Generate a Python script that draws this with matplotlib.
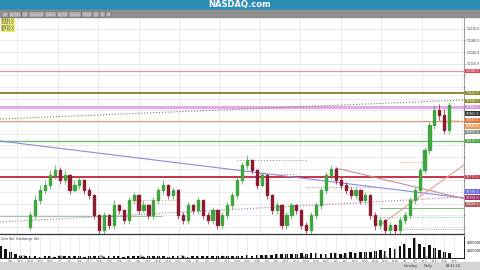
import matplotlib
matplotlib.use("Agg")
import matplotlib.pyplot as plt
from matplotlib.patches import Rectangle
import numpy as np

# daily candles (price)
opens = [10620, 10655, 10700, 10730, 10745, 10775, 10790, 10760, 10775, 10730,
         10745, 10760, 10730, 10715, 10655, 10610, 10655, 10625, 10685, 10670,
         10640, 10700, 10715, 10670, 10685, 10655, 10700, 10730, 10745, 10715,
         10730, 10655, 10640, 10685, 10670, 10700, 10655, 10640, 10670, 10625,
         10655, 10685, 10715, 10760, 10805, 10820, 10790, 10745, 10775, 10715,
         10670, 10685, 10625, 10655, 10685, 10670, 10625, 10610, 10655, 10685,
         10730, 10775, 10795, 10760, 10745, 10730, 10715, 10730, 10700, 10715,
         10655, 10625, 10640, 10610, 10625, 10610, 10640, 10655, 10700, 10730,
         10790, 10850, 10925, 10970, 10955, 10910]
closes = [10655, 10700, 10730, 10745, 10775, 10790, 10760, 10775, 10730, 10745,
          10760, 10730, 10715, 10655, 10610, 10655, 10625, 10685, 10670, 10640,
          10700, 10715, 10670, 10685, 10655, 10700, 10730, 10745, 10715, 10730,
          10655, 10640, 10685, 10670, 10700, 10655, 10640, 10670, 10625, 10655,
          10685, 10715, 10760, 10805, 10820, 10790, 10745, 10775, 10715, 10670,
          10685, 10625, 10655, 10685, 10670, 10625, 10610, 10655, 10685, 10730,
          10775, 10795, 10760, 10745, 10730, 10715, 10730, 10700, 10715, 10655,
          10625, 10640, 10610, 10625, 10610, 10640, 10655, 10700, 10730, 10790,
          10850, 10925, 10970, 10955, 10910, 10985]
highs = [10665, 10715, 10745, 10760, 10790, 10805, 10800, 10790, 10780, 10760,
         10770, 10765, 10740, 10720, 10660, 10665, 10660, 10700, 10690, 10675,
         10710, 10725, 10720, 10700, 10690, 10710, 10740, 10760, 10750, 10740,
         10735, 10665, 10695, 10690, 10710, 10705, 10665, 10680, 10675, 10665,
         10695, 10725, 10770, 10815, 10835, 10825, 10795, 10785, 10780, 10720,
         10695, 10690, 10665, 10695, 10690, 10675, 10635, 10665, 10695, 10740,
         10785, 10805, 10800, 10770, 10755, 10740, 10740, 10735, 10725, 10720,
         10665, 10650, 10645, 10635, 10630, 10650, 10665, 10710, 10740, 10800,
         10860, 10935, 10985, 10990, 10975, 10995]
lows = [10610, 10645, 10690, 10720, 10735, 10765, 10750, 10750, 10720, 10725,
        10735, 10720, 10705, 10645, 10600, 10600, 10615, 10615, 10660, 10630,
        10630, 10690, 10660, 10665, 10645, 10645, 10690, 10720, 10705, 10705,
        10645, 10630, 10630, 10660, 10660, 10645, 10630, 10630, 10615, 10615,
        10645, 10675, 10705, 10750, 10795, 10780, 10735, 10740, 10705, 10660,
        10660, 10615, 10615, 10645, 10660, 10615, 10600, 10600, 10645, 10675,
        10720, 10765, 10750, 10735, 10720, 10705, 10705, 10690, 10690, 10645,
        10610, 10615, 10600, 10600, 10600, 10600, 10630, 10645, 10690, 10720,
        10780, 10840, 10915, 10940, 10900, 10900]

# volume starts 6 bars before first visible candle
volume = [3.1, 2.2, 1.6, 1.1, 0.6, 0.4,
          0.4, 0.5, 0.3, 0.4, 0.5, 0.3, 0.4, 0.4, 0.5, 0.6, 0.4, 0.3, 0.4, 0.5,
          0.4, 0.3, 0.4, 0.4, 0.5, 0.3, 0.4, 0.5, 0.4, 0.3, 0.4, 0.5, 0.4, 0.4,
          0.3, 0.4, 0.5, 0.4, 0.3, 0.4, 0.5, 0.4, 0.5, 0.6, 0.5, 0.4, 0.5, 0.6,
          0.5, 0.6, 0.7, 0.6, 0.7, 0.8, 0.7, 0.8, 0.9, 1.0, 0.9, 1.1, 1.0, 1.2,
          1.1, 1.3, 1.2, 1.0, 1.1, 1.2, 1.3, 1.1, 1.2, 1.4, 1.3, 1.5, 1.6, 1.4,
          1.8, 2.0, 1.7, 2.4, 2.2, 3.0, 3.4, 2.6, 4.9, 3.6, 2.8, 3.2, 2.4, 2.0,
          1.6, 1.2]

# horizontal levels: price, colour, width
levels = [11088, 11022, 10980, 10938, 10878, 10770]
level_colors = ["#e8909c", "#8c8a28", "#e6a8e6", "#e89a78", "#6cc06c", "#c8324a"]
level_widths = [0.9, 1.4, 2.2, 0.8, 1.0, 1.4]

# trendlines: (x0, p0, x1, p1)
trend_x0 = [-6.1, -6.1, -6.1, 62, 71]
trend_p0 = [10944, 10878, 10635, 10797, 10626]
trend_x1 = [88, 88, 88, 88, 88]
trend_p1 = [11001, 10707, 10710, 10705, 10806]
trend_colors = ["#777777", "#8a8ae0", "#b070c0", "#c89090", "#e8a090"]
trend_styles = [":", "-", ":", "-", "-"]

# labelled boxes on the price scale
box_p = [11088, 11022, 10998, 10980, 10960, 10940, 10922, 10905, 10878, 10770, 10726, 10708, 10688]
box_c = ["#e04058", "#8c8a28", "#8c8a28", "#d890d8", "#333333", "#e07838", "#e8a060",
         "#8a8a8a", "#3fa63f", "#c8324a", "#6a6ad8", "#a0306a", "#b06060"]

date_lbls = ["1/8", "1/13", "1/19", "1/22", "1/27", "2/1", "2/4", "2/9", "2/12",
             "2/18", "2/23", "2/26", "3/3", "3/8", "3/11", "3/16", "3/19", "3/24",
             "3/29", "4/1", "4/7", "4/12", "4/15", "4/20", "4/23", "4/28", "5/3",
             "5/6", "5/11", "5/14", "5/19", "5/24", "5/27", "6/2", "6/7", "6/10",
             "6/15", "6/18", "6/23", "6/28", "7/1", "7/7", "7/12", "7/15", "7/20", "7/23"]
month_lbls = ["2021", "Feb", "Mar", "Apr", "May", "Jun", "Jul", "Aug", "Sep", "Oct", "Nov"]

left_px, right_px = -6.1, 88.0

fig = plt.figure(figsize=(4.8, 2.7), dpi=100)
fig.patch.set_facecolor("white")
W, H = 480.0, 270.0

def fr(x, y, w, h):
    return [x / W, 1 - (y + h) / H, w / W, h / H]

# header band
fig.patches.append(Rectangle((0, 1 - 10 / H), 1, 10 / H, transform=fig.transFigure,
                             color="#2b8db5", zorder=0))
fig.text(0.5, 1 - 5 / H, "NASDAQ.com", color="white", fontsize=6, fontweight="bold",
         ha="center", va="center", family="DejaVu Sans")
# toolbar
fig.patches.append(Rectangle((0, 1 - 17 / H), 1, 7 / H, transform=fig.transFigure,
                             color="#8e8e8e", zorder=0))
btn_x = [2, 9, 22, 29, 45, 57, 69, 82, 93, 100, 106]
btn_w = [6, 12, 6, 15, 11, 11, 12, 10, 6, 5, 5]
for bx, bw in zip(btn_x, btn_w):
    fig.patches.append(Rectangle((bx / W, 1 - 16.5 / H), bw / W, 5 / H,
                                 transform=fig.transFigure, facecolor="#b8b8b8",
                                 edgecolor="#555555", lw=0.3, zorder=1))
# bottom bar
fig.patches.append(Rectangle((0, 0), 1, 8 / H, transform=fig.transFigure,
                             color="#d4d4d4", zorder=0))
for bx, txt in zip([404, 424, 446], ["Intraday", "Daily", "09:41:10"]):
    fig.text(bx / W, 4 / H, txt, fontsize=2.4, color="#333333", va="center")

ax = fig.add_axes(fr(0, 17, 464, 217))
vax = fig.add_axes(fr(0, 236, 464, 22))

x = np.arange(len(closes))
up_c, dn_c = "#3fa63f", "#8c1a30"
for i in x:
    o, c, h, l = opens[i], closes[i], highs[i], lows[i]
    col = up_c if c >= o else dn_c
    ax.vlines(i, l, h, color=col, lw=0.5, zorder=4)
    ax.add_patch(Rectangle((i - 0.22, min(o, c)), 0.44, max(abs(c - o), 2),
                           color=col, zorder=5))

for p, col, lw in zip(levels, level_colors, level_widths):
    ax.axhline(p, color=col, lw=lw, zorder=3)
ax.axhline(10652, xmax=0.35, color="#8fd08f", lw=0.7, zorder=3)
ax.axhline(10676, xmin=0.82, color="#7cc07c", lw=0.7, zorder=3)
ax.axhline(10650, xmin=0.8, color="#60c0c0", lw=0.7, ls=":", zorder=3)
ax.axhline(10613, xmin=0.83, color="#888888", lw=0.6, ls=":", zorder=3)

for a, b, c, d, col, ls in zip(trend_x0, trend_p0, trend_x1, trend_p1, trend_colors, trend_styles):
    ax.plot([a, c], [b, d], color=col, ls=ls, lw=0.8, zorder=3)

# short dotted reference segments
seg_x0 = [42, 46, 56, 20, 83, 75]
seg_x1 = [56, 54, 70, 30, 87, 80]
seg_p = [10821, 10780, 10740, 10700, 10940, 10815]
seg_c = ["#999999", "#999999", "#999999", "#e8a060", "#e8a060", "#e8a060"]
for a, b, p, col in zip(seg_x0, seg_x1, seg_p, seg_c):
    ax.plot([a, b], [p, p], color=col, ls=":", lw=0.8, zorder=3)

ax.set_xlim(left_px, right_px)
ax.set_ylim(10599, 11250)
ax.set_xticks(np.arange(-2.6, 88, 8.2))
ax.set_xticklabels([])
ax.tick_params(axis="x", length=0)
ax.yaxis.tick_right()
yt = np.arange(10620, 11250, 35)
ax.set_yticks(yt)
ax.set_yticklabels([f"{v:.1f}" if v >= 11100 else "" for v in yt],
                   fontsize=2.3, color="#333333")
ax.tick_params(axis="y", length=1, width=0.4, pad=0.8)
ax.grid(True, color="#e3e3e3", lw=0.5)
for s in ["top", "left"]:
    ax.spines[s].set_visible(False)
ax.spines["right"].set_color("#888888")
ax.spines["right"].set_linewidth(0.6)
ax.spines["bottom"].set_color("#333333")
ax.spines["bottom"].set_linewidth(0.9)

for p, col in zip(box_p, box_c):
    ax.text(1.004, p, f"{p:.1f}", transform=ax.get_yaxis_transform(), fontsize=2.3,
            color="white", va="center", ha="left",
            bbox=dict(boxstyle="square,pad=0.12", fc=col, ec="none"), clip_on=False)

# top-left legend box
for k, t in enumerate(["10985.0", "11001.0", "10878.0", "10770.0"]):
    fig.text(1 / W, 1 - (20 + 3.4 * k) / H, t, fontsize=2.3, color="#333333", va="center",
             bbox=dict(boxstyle="square,pad=0.08", fc="#eef07a", ec="none"))

# volume panel
vx = np.arange(len(volume)) - 6
vax.bar(vx, volume, width=0.55, color="#111111")
vax.set_xlim(left_px, right_px)
vax.set_ylim(0, 5.5)
vax.yaxis.tick_right()
vax.set_yticks([2, 4])
vax.set_yticklabels(["2000000", "4000000"], fontsize=2.3)
vax.tick_params(axis="y", length=1, width=0.4, pad=0.8)
vax.set_xticks(np.arange(-4, 88, 2))
vax.set_xticklabels(date_lbls, fontsize=2.2, color="#333333")
vax.tick_params(axis="x", length=1, width=0.3, pad=0.5)
vax.grid(True, axis="x", color="#e3e3e3", lw=0.5)
for s in ["top", "left"]:
    vax.spines[s].set_visible(False)
vax.spines["right"].set_linewidth(0.6)
vax.spines["bottom"].set_linewidth(0.6)
vax.text(0.003, 0.97, "Cmt Vol  Exchange Vol", transform=vax.transAxes, fontsize=2.4,
         va="top", color="#333333")
for mx, mt in zip(np.arange(-2.6, 88, 8.2), month_lbls):
    vax.text(mx + 0.3, 0.05, mt, fontsize=2.2, color="#333333")

fig.savefig("out.png", dpi=100)
